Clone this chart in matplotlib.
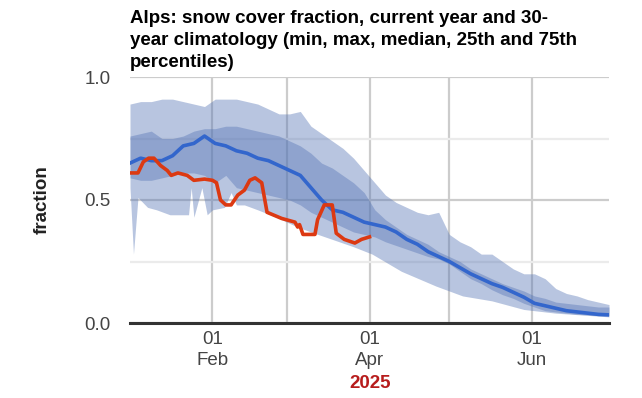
import numpy as np
import pandas as pd
import matplotlib
matplotlib.use("Agg")
import matplotlib.pyplot as plt
import matplotlib.dates as mdates

plt.rcParams['font.family'] = ['Liberation Sans', 'DejaVu Sans']

# Climatologia (30 anos): dias desde 1 jan, a cada 4 dias
clim_days = list(range(0, 181, 4))
clim_median = [0.65, 0.67, 0.66, 0.66, 0.68, 0.72, 0.73, 0.76, 0.73, 0.72,
               0.70, 0.69, 0.67, 0.66, 0.64, 0.62, 0.60, 0.55, 0.50, 0.46,
               0.45, 0.43, 0.41, 0.40, 0.39, 0.37, 0.34, 0.32, 0.29, 0.27,
               0.25, 0.225, 0.20, 0.18, 0.16, 0.145, 0.125, 0.105, 0.08, 0.07,
               0.06, 0.05, 0.045, 0.04, 0.035, 0.033]
clim_p75 = [0.76, 0.77, 0.78, 0.75, 0.75, 0.76, 0.78, 0.79, 0.79, 0.80,
            0.80, 0.79, 0.78, 0.77, 0.76, 0.74, 0.72, 0.69, 0.65, 0.63,
            0.60, 0.57, 0.53, 0.46, 0.42, 0.39, 0.36, 0.34, 0.32, 0.29,
            0.27, 0.25, 0.22, 0.20, 0.18, 0.16, 0.145, 0.13, 0.11, 0.10,
            0.085, 0.08, 0.075, 0.07, 0.065, 0.065]
clim_p25 = [0.59, 0.58, 0.58, 0.59, 0.60, 0.61, 0.61, 0.60, 0.57, 0.60,
            0.55, 0.54, 0.53, 0.52, 0.51, 0.50, 0.48, 0.45, 0.43, 0.41,
            0.39, 0.37, 0.36, 0.35, 0.33, 0.315, 0.30, 0.285, 0.27, 0.26,
            0.24, 0.21, 0.18, 0.16, 0.135, 0.115, 0.10, 0.08, 0.065, 0.05,
            0.045, 0.04, 0.035, 0.033, 0.03, 0.03]
clim_max = [0.89, 0.90, 0.90, 0.91, 0.91, 0.90, 0.89, 0.88, 0.91, 0.91,
            0.91, 0.90, 0.89, 0.87, 0.85, 0.85, 0.86, 0.80, 0.77, 0.74,
            0.71, 0.67, 0.62, 0.57, 0.52, 0.49, 0.47, 0.45, 0.44, 0.45,
            0.36, 0.33, 0.31, 0.28, 0.28, 0.25, 0.22, 0.20, 0.20, 0.18,
            0.14, 0.12, 0.11, 0.095, 0.085, 0.075]

# Mínimo tem picos estreitos, por isso tem seus próprios dias
min_days = [0, 1.3, 3, 6.6, 10, 15, 19, 22, 23, 24, 27, 29, 31, 35.5, 38, 40,
            43, 48, 55, 63, 68, 76, 84, 91, 102, 115, 125, 136, 148, 160, 180]
clim_min = [0.55, 0.28, 0.51, 0.47, 0.46, 0.44, 0.44, 0.44, 0.55, 0.43, 0.55,
            0.44, 0.46, 0.47, 0.53, 0.48, 0.48, 0.46, 0.43, 0.39, 0.37, 0.34,
            0.31, 0.28, 0.21, 0.15, 0.11, 0.09, 0.055, 0.04, 0.025]

# Ano corrente (2025)
cur_days = [0.5, 3, 5, 7, 9, 11.5, 14, 15.5, 18, 21.5, 24, 28, 31, 32.5, 34,
            36, 38, 40.5, 43, 45, 47, 49.5, 51.5, 57, 62, 63, 63.7, 65, 69.5,
            70.5, 73, 76, 77.5, 80.5, 84.5, 87, 90]
cur_vals = [0.61, 0.61, 0.655, 0.67, 0.67, 0.64, 0.62, 0.60, 0.61, 0.60, 0.58,
            0.585, 0.58, 0.57, 0.50, 0.48, 0.48, 0.52, 0.54, 0.58, 0.59, 0.57,
            0.45, 0.425, 0.41, 0.39, 0.40, 0.36, 0.36, 0.42, 0.48, 0.48, 0.365,
            0.34, 0.325, 0.34, 0.35]

start = pd.Timestamp("2025-01-01")
to_dates = lambda d: start + pd.to_timedelta(np.asarray(d, dtype=float), unit="D")

band_color = (87 / 255, 118 / 255, 182 / 255)

fig = plt.figure(figsize=(6.42, 3.98), dpi=100)
ax = fig.add_axes([130 / 642, 1 - 323 / 398, (609 - 130) / 642, (323 - 77) / 398])

# Faixa min-max (precisa interpolar o mínimo na grade comum)
grid = np.union1d(np.array(clim_days, dtype=float), np.array(min_days, dtype=float))
max_g = np.interp(grid, clim_days, clim_max)
min_g = np.interp(grid, min_days, clim_min)
ax.fill_between(to_dates(grid), min_g, max_g, color=band_color, alpha=0.42,
                linewidth=0, zorder=2)
ax.fill_between(to_dates(clim_days), clim_p25, clim_p75, color=band_color,
                alpha=0.42, linewidth=0, zorder=2)
ax.plot(to_dates(clim_days), clim_median, color='#3366cc', lw=2.6, zorder=3,
        solid_joinstyle='round')
ax.plot(to_dates(cur_days), cur_vals, color='#dc3912', lw=2.6, zorder=4,
        solid_joinstyle='round')

ax.set_xlim(start, start + pd.Timedelta(days=180))
ax.set_ylim(0, 1.0)

ax.xaxis.set_major_locator(mdates.MonthLocator(bymonth=[2, 4, 6]))
ax.xaxis.set_minor_locator(mdates.MonthLocator(bymonth=[3, 5]))
ax.xaxis.set_major_formatter(mdates.DateFormatter("%d\n%b"))
ax.set_yticks([0.0, 0.5, 1.0])
ax.set_yticks([0.25, 0.75], minor=True)
ax.set_yticklabels(["0.0", "0.5", "1.0"])

ax.grid(which='major', axis='both', color='#cccccc', lw=1.6, zorder=0)
ax.grid(which='minor', axis='x', color='#cccccc', lw=1.6, zorder=0)
ax.grid(which='minor', axis='y', color='#ebebeb', lw=1.6, zorder=0)
ax.set_axisbelow(True)

for s in ax.spines.values():
    s.set_visible(False)
ax.axhline(0, color='#333333', lw=2.2, zorder=5, clip_on=False)

ax.tick_params(axis='both', which='both', length=0, labelsize=13.5,
               labelcolor='#444444')
ax.tick_params(axis='x', pad=6)
ax.tick_params(axis='y', pad=14)
for lbl in ax.get_xticklabels():
    lbl.set_linespacing(1.3)

ax.set_ylabel("fraction", fontsize=13.5, fontweight='bold', color='#222222',
              labelpad=24)

fig.text(130 / 642, 1 - 10 / 398,
         "Alps: snow cover fraction, current year and 30-\n"
         "year climatology (min, max, median, 25th and 75th\n"
         "percentiles)",
         ha='left', va='top', fontsize=13.5, fontweight='bold', color='#000000',
         linespacing=1.38)
fig.text(370 / 642, 1 - 384 / 398, "2025", ha='center', va='center',
         fontsize=13.5, fontweight='bold', color='#b71c1c')

fig.savefig("out.png", dpi=100)
